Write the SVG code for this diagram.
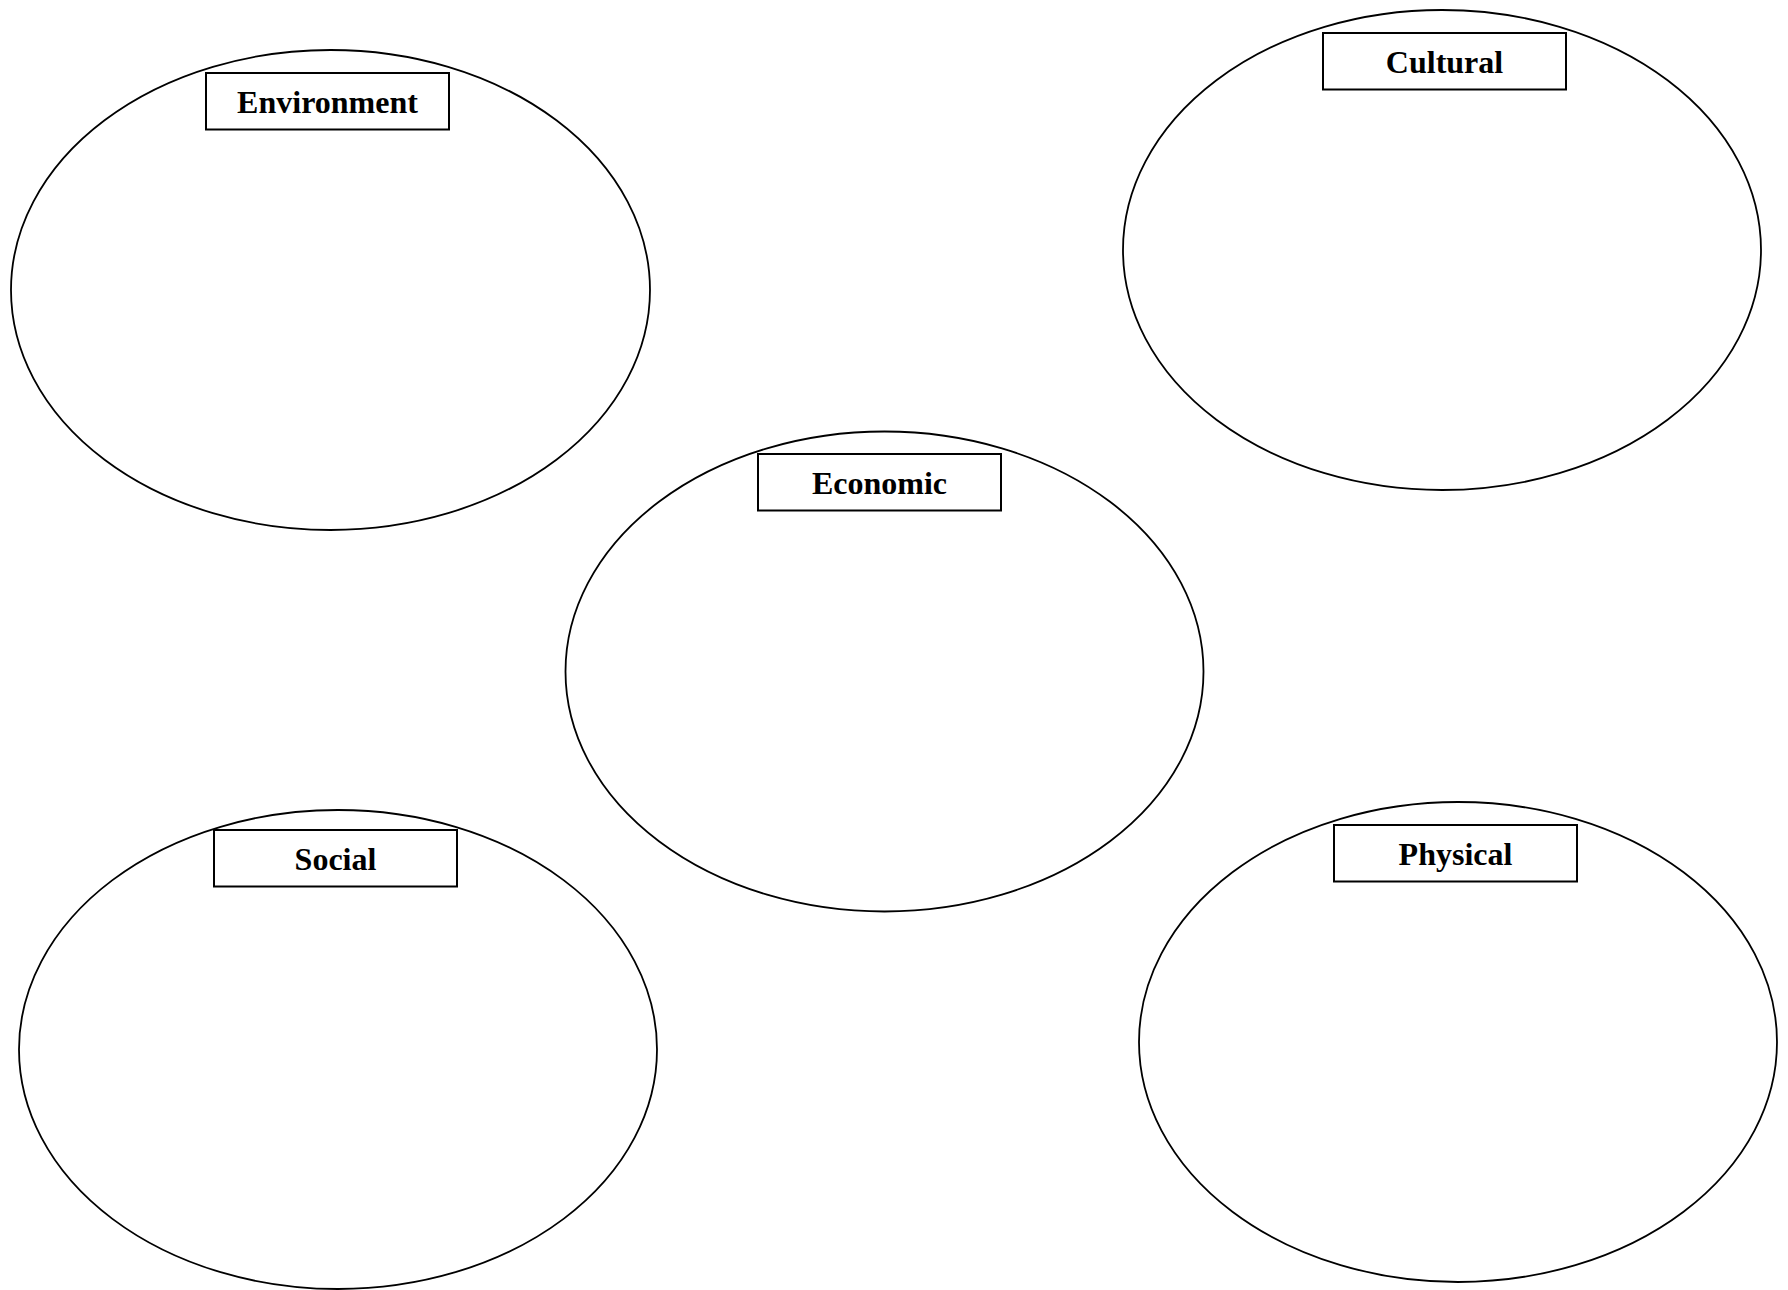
<svg xmlns="http://www.w3.org/2000/svg" width="1788" height="1290" viewBox="0 0 1788 1290">
<style>
.ell{fill:none;stroke:#000;stroke-width:1.8}
.box{fill:#fff;stroke:#000;stroke-width:2}
.lbl{font-family:"Liberation Serif","Times New Roman",serif;font-weight:bold;font-size:32px;fill:#000;text-anchor:middle}
</style>
<rect width="1788" height="1290" fill="#fff"/>
<g id="environment">
<ellipse class="ell" cx="330.5" cy="290" rx="319.5" ry="240"/>
<rect class="box" x="206" y="73" width="243" height="56.5"/>
<text class="lbl" x="327.5" y="113">Environment</text>
</g>
<g id="cultural">
<ellipse class="ell" cx="1442" cy="250" rx="319" ry="240"/>
<rect class="box" x="1323" y="33" width="243" height="56.5"/>
<text class="lbl" x="1444.5" y="73">Cultural</text>
</g>
<g id="economic">
<ellipse class="ell" cx="884.5" cy="671.5" rx="319" ry="240"/>
<rect class="box" x="758" y="454" width="243" height="56.5"/>
<text class="lbl" x="879.5" y="494">Economic</text>
</g>
<g id="social">
<ellipse class="ell" cx="338" cy="1049.5" rx="319" ry="239.5"/>
<rect class="box" x="214" y="830" width="243" height="56.5"/>
<text class="lbl" x="335.5" y="870">Social</text>
</g>
<g id="physical">
<ellipse class="ell" cx="1458" cy="1042" rx="319" ry="240"/>
<rect class="box" x="1334" y="825" width="243" height="56.5"/>
<text class="lbl" x="1455.5" y="865">Physical</text>
</g>
<g id="connectors"></g>
</svg>
